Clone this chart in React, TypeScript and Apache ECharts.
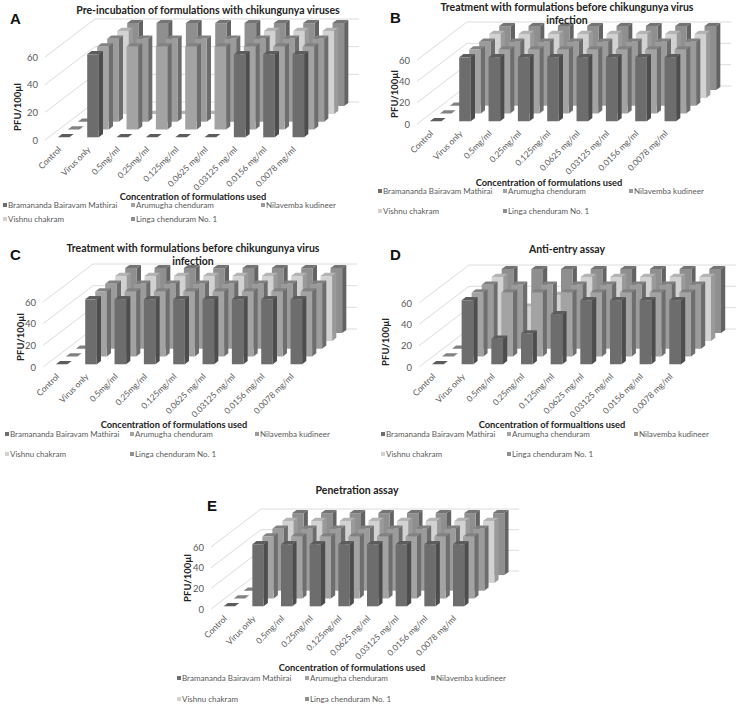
import React, { useEffect, useRef } from "react";
import * as echarts from "echarts";

const categories = ["Control", "Virus only", "0.5mg/ml", "0.25mg/ml", "0.125mg/ml", "0.0625 mg/ml", "0.03125 mg/ml", "0.0156 mg/ml", "0.0078 mg/ml"];
const seriesNames = ["Bramananda Bairavam Mathirai", "Arumugha chenduram", "Nilavemba kudineer", "Vishnu chakram", "Linga chenduram No. 1"];
const valueTicks = [0, 20, 40, 60];

const allActive = [0, 60, 60, 60, 60, 60, 60, 60, 60];
const aBrama = [0, 60, 0, 0, 0, 0, 60, 60, 60];
const aArumugha = [0, 60, 60, 60, 60, 60, 60, 60, 60];
const aNilavemba = [0, 60, 60, 60, 60, 60, 60, 60, 60];
const aVishnu = [0, 60, 0, 0, 0, 0, 60, 60, 60];
const aLinga = [0, 60, 60, 60, 60, 60, 60, 60, 60];
const dBrama = [0, 60, 24, 29, 47, 60, 60, 60, 60];
const dArumugha = [0, 60, 60, 60, 60, 60, 60, 60, 60];
const dNilavemba = [0, 60, 60, 60, 60, 60, 60, 60, 60];
const dVishnu = [0, 60, 32, 43, 60, 60, 60, 60, 60];
const dLinga = [0, 60, 60, 60, 60, 60, 60, 60, 60];

const titleB = "Treatment with formulations before chikungunya virus\ninfection";
const xNameUsual = "Concentration of formulations used";

const faceColors = ["#6d6d6d", "#a3a3a3", "#9b9b9b", "#d2d2d2", "#8f8f8f"];
const sideColors = ["#4d4d4d", "#6e6e6e", "#6c6c6c", "#9a9a9a", "#636363"];
const topColors = ["#5c5c5c", "#828282", "#808080", "#b4b4b4", "#747474"];

const panels = [
  { letter: "A", lx: 10, ly: 11, title: "Pre-incubation of formulations with chikungunya viruses", tx: 208, ty: 3, left: 45, width: 264, top: 57, bottom: 140, xName: xNameUsual, xnx: 193, xny: 196, ynx: 17, yny: 107, data: [aBrama, aArumugha, aNilavemba, aVishnu, aLinga], rows: [206, 220], cols: [3, 131, 261] },
  { letter: "B", lx: 390, ly: 10, title: titleB, tx: 567, ty: 0, left: 417, width: 264, top: 60, bottom: 124, xName: xNameUsual, xnx: 549, xny: 182, ynx: 394, yny: 94, data: [allActive, allActive, allActive, allActive, allActive], rows: [192, 212], cols: [378, 503, 629] },
  { letter: "C", lx: 10, ly: 247, title: titleB, tx: 193, ty: 241, left: 43, width: 264, top: 302, bottom: 367, xName: xNameUsual, xnx: 174, xny: 424, ynx: 20, yny: 337, data: [allActive, allActive, allActive, allActive, allActive], rows: [435, 455], cols: [5, 130, 255] },
  { letter: "D", lx: 390, ly: 247, title: "Anti-entry assay", tx: 567, ty: 242, left: 419, width: 267, top: 303, bottom: 367, xName: "Concentration of formualtions used", xnx: 552, xny: 424, ynx: 385, yny: 342, data: [dBrama, dArumugha, dNilavemba, dVishnu, dLinga], rows: [435, 455], cols: [381, 507, 634] },
  { letter: "E", lx: 207, ly: 498, title: "Penetration assay", tx: 357, ty: 483, left: 211, width: 258, top: 547, bottom: 609, xName: xNameUsual, xnx: 352, xny: 667, ynx: 187, yny: 578, data: [allActive, allActive, allActive, allActive, allActive], rows: [679, 700], cols: [177, 305, 431] },
];

const FONT = "Lato";
const TOTAL_DX = 50;
const TOTAL_DY = 38;
const SLOT_DX = 10;
const SLOT_DY = 7.8;
const START_DX = 4;
const START_DY = 2.7;
const BAR_DX = 4.2;
const BAR_DY = 3.2;
const BAR_RATIO = 0.395;

function gridLineItem(_params: any, api: any) {
  const v = api.value(1);
  const p = api.coord([0, v]);
  const band = api.size([1, 0])[0];
  const x0 = p[0] - band / 2;
  const w = band * 9;
  return {
    type: "polyline",
    silent: true,
    shape: { points: [[x0, p[1]], [x0 + TOTAL_DX, p[1] - TOTAL_DY], [x0 + TOTAL_DX + w, p[1] - TOTAL_DY]] },
    style: { fill: "none", stroke: "#dcdcdc", lineWidth: 1 },
  };
}

function makeBarItem(k: number) {
  return (params: any, api: any) => {
    const base = api.coord([params.dataIndex, 0]);
    const top = api.coord([params.dataIndex, api.value(1)]);
    const w = api.size([1, 0])[0] * BAR_RATIO;
    const ox = START_DX + SLOT_DX * k;
    const oy = START_DY + SLOT_DY * k;
    const xL = base[0] - w / 2 + ox;
    const xR = xL + w;
    const yB = base[1] - oy;
    const yT = top[1] - oy;
    return {
      type: "group",
      children: [
        { type: "polygon", shape: { points: [[xL, yT], [xR, yT], [xR + BAR_DX, yT - BAR_DY], [xL + BAR_DX, yT - BAR_DY]] }, style: { fill: topColors[k] } },
        { type: "polygon", shape: { points: [[xR, yT], [xR + BAR_DX, yT - BAR_DY], [xR + BAR_DX, yB - BAR_DY], [xR, yB]] }, style: { fill: sideColors[k] } },
        { type: "rect", shape: { x: xL, y: yT, width: w, height: yB - yT }, style: { fill: faceColors[k] } },
      ],
    };
  };
}

function buildOption() {
  const grid: any[] = [];
  const xAxis: any[] = [];
  const yAxis: any[] = [];
  const series: any[] = [];
  const title: any[] = [];
  const legend: any[] = [];
  panels.forEach((p, idx) => {
    grid.push({ left: p.left, width: p.width, top: p.top, height: p.bottom - p.top });
    xAxis.push({
      type: "category",
      gridIndex: idx,
      data: categories,
      axisLine: { show: false },
      axisTick: { show: false },
      axisLabel: { interval: 0, rotate: 45, fontFamily: FONT, fontSize: 8.5, color: "#595959", margin: 8 },
      name: p.xName,
      nameLocation: "middle",
      nameGap: p.xny - p.bottom,
      nameMoveOverlap: false,
      nameTextStyle: { fontFamily: FONT, fontSize: 9.3, fontWeight: "bold", color: "#222", verticalAlign: "middle", padding: [0, 0, 0, 2 * (p.xnx - (p.left + p.width / 2))] },
    });
    yAxis.push({
      type: "value",
      gridIndex: idx,
      min: 0,
      max: 60,
      interval: 20,
      splitLine: { show: false },
      axisLine: { show: false },
      axisTick: { show: false },
      axisLabel: { fontFamily: FONT, fontSize: 9.5, color: "#595959", margin: 7 },
      name: "PFU/100µl",
      nameLocation: "middle",
      nameGap: p.left - p.ynx,
      nameMoveOverlap: false,
      nameTextStyle: { fontFamily: FONT, fontSize: 9.5, fontWeight: "bold", color: "#222", verticalAlign: "middle", padding: [0, 2 * (p.yny - (p.top + p.bottom) / 2), 0, 0] },
    });
    series.push({
      type: "custom",
      name: "grid" + p.letter,
      xAxisIndex: idx,
      yAxisIndex: idx,
      silent: true,
      z: 1,
      renderItem: gridLineItem,
      encode: { x: 0, y: 1 },
      data: valueTicks.map((t) => [categories[0], t]),
    });
    for (let k = seriesNames.length - 1; k >= 0; k--) {
      series.push({
        type: "custom",
        name: seriesNames[k],
        xAxisIndex: idx,
        yAxisIndex: idx,
        z: 2 + (seriesNames.length - k),
        itemStyle: { color: faceColors[k] },
        renderItem: makeBarItem(k),
        encode: { x: 0, y: 1 },
        data: p.data[k].map((v, i) => [categories[i], v]),
      });
    }
    title.push({
      text: p.title,
      left: p.tx,
      top: p.ty,
      textAlign: "center",
      padding: 0,
      textStyle: { fontFamily: FONT, fontSize: 10.5, fontWeight: "bold", color: "#222", lineHeight: 13.5 },
    });
    title.push({
      text: p.letter,
      left: p.lx,
      top: p.ly,
      padding: 0,
      textStyle: { fontFamily: "Liberation Sans", fontSize: 15, fontWeight: "bold", color: "#111" },
    });
    const slots = [
      [0, 0],
      [1, 0],
      [2, 0],
      [0, 1],
      [1, 1],
    ];
    seriesNames.forEach((name, k) => {
      legend.push({
        data: [{ name, icon: "rect" }],
        left: p.cols[slots[k][0]],
        top: p.rows[slots[k][1]] - 5,
        padding: 0,
        itemWidth: 4,
        itemHeight: 4,
        itemGap: 0,
        selectedMode: false,
        textStyle: { fontFamily: FONT, fontSize: 8, color: "#595959", padding: [0, 0, 0, -4] },
      });
    });
  });
  return { animation: false, backgroundColor: "#fff", grid, xAxis, yAxis, series, title, legend };
}

export default function App() {
  const ref = useRef<HTMLDivElement>(null);
  useEffect(() => {
    document.body.style.margin = "0";
    const chart = echarts.init(ref.current!, undefined, { renderer: "svg" });
    chart.setOption(buildOption() as any);
    return () => chart.dispose();
  }, []);
  return <div ref={ref} style={{ width: 738, height: 705 }} />;
}
